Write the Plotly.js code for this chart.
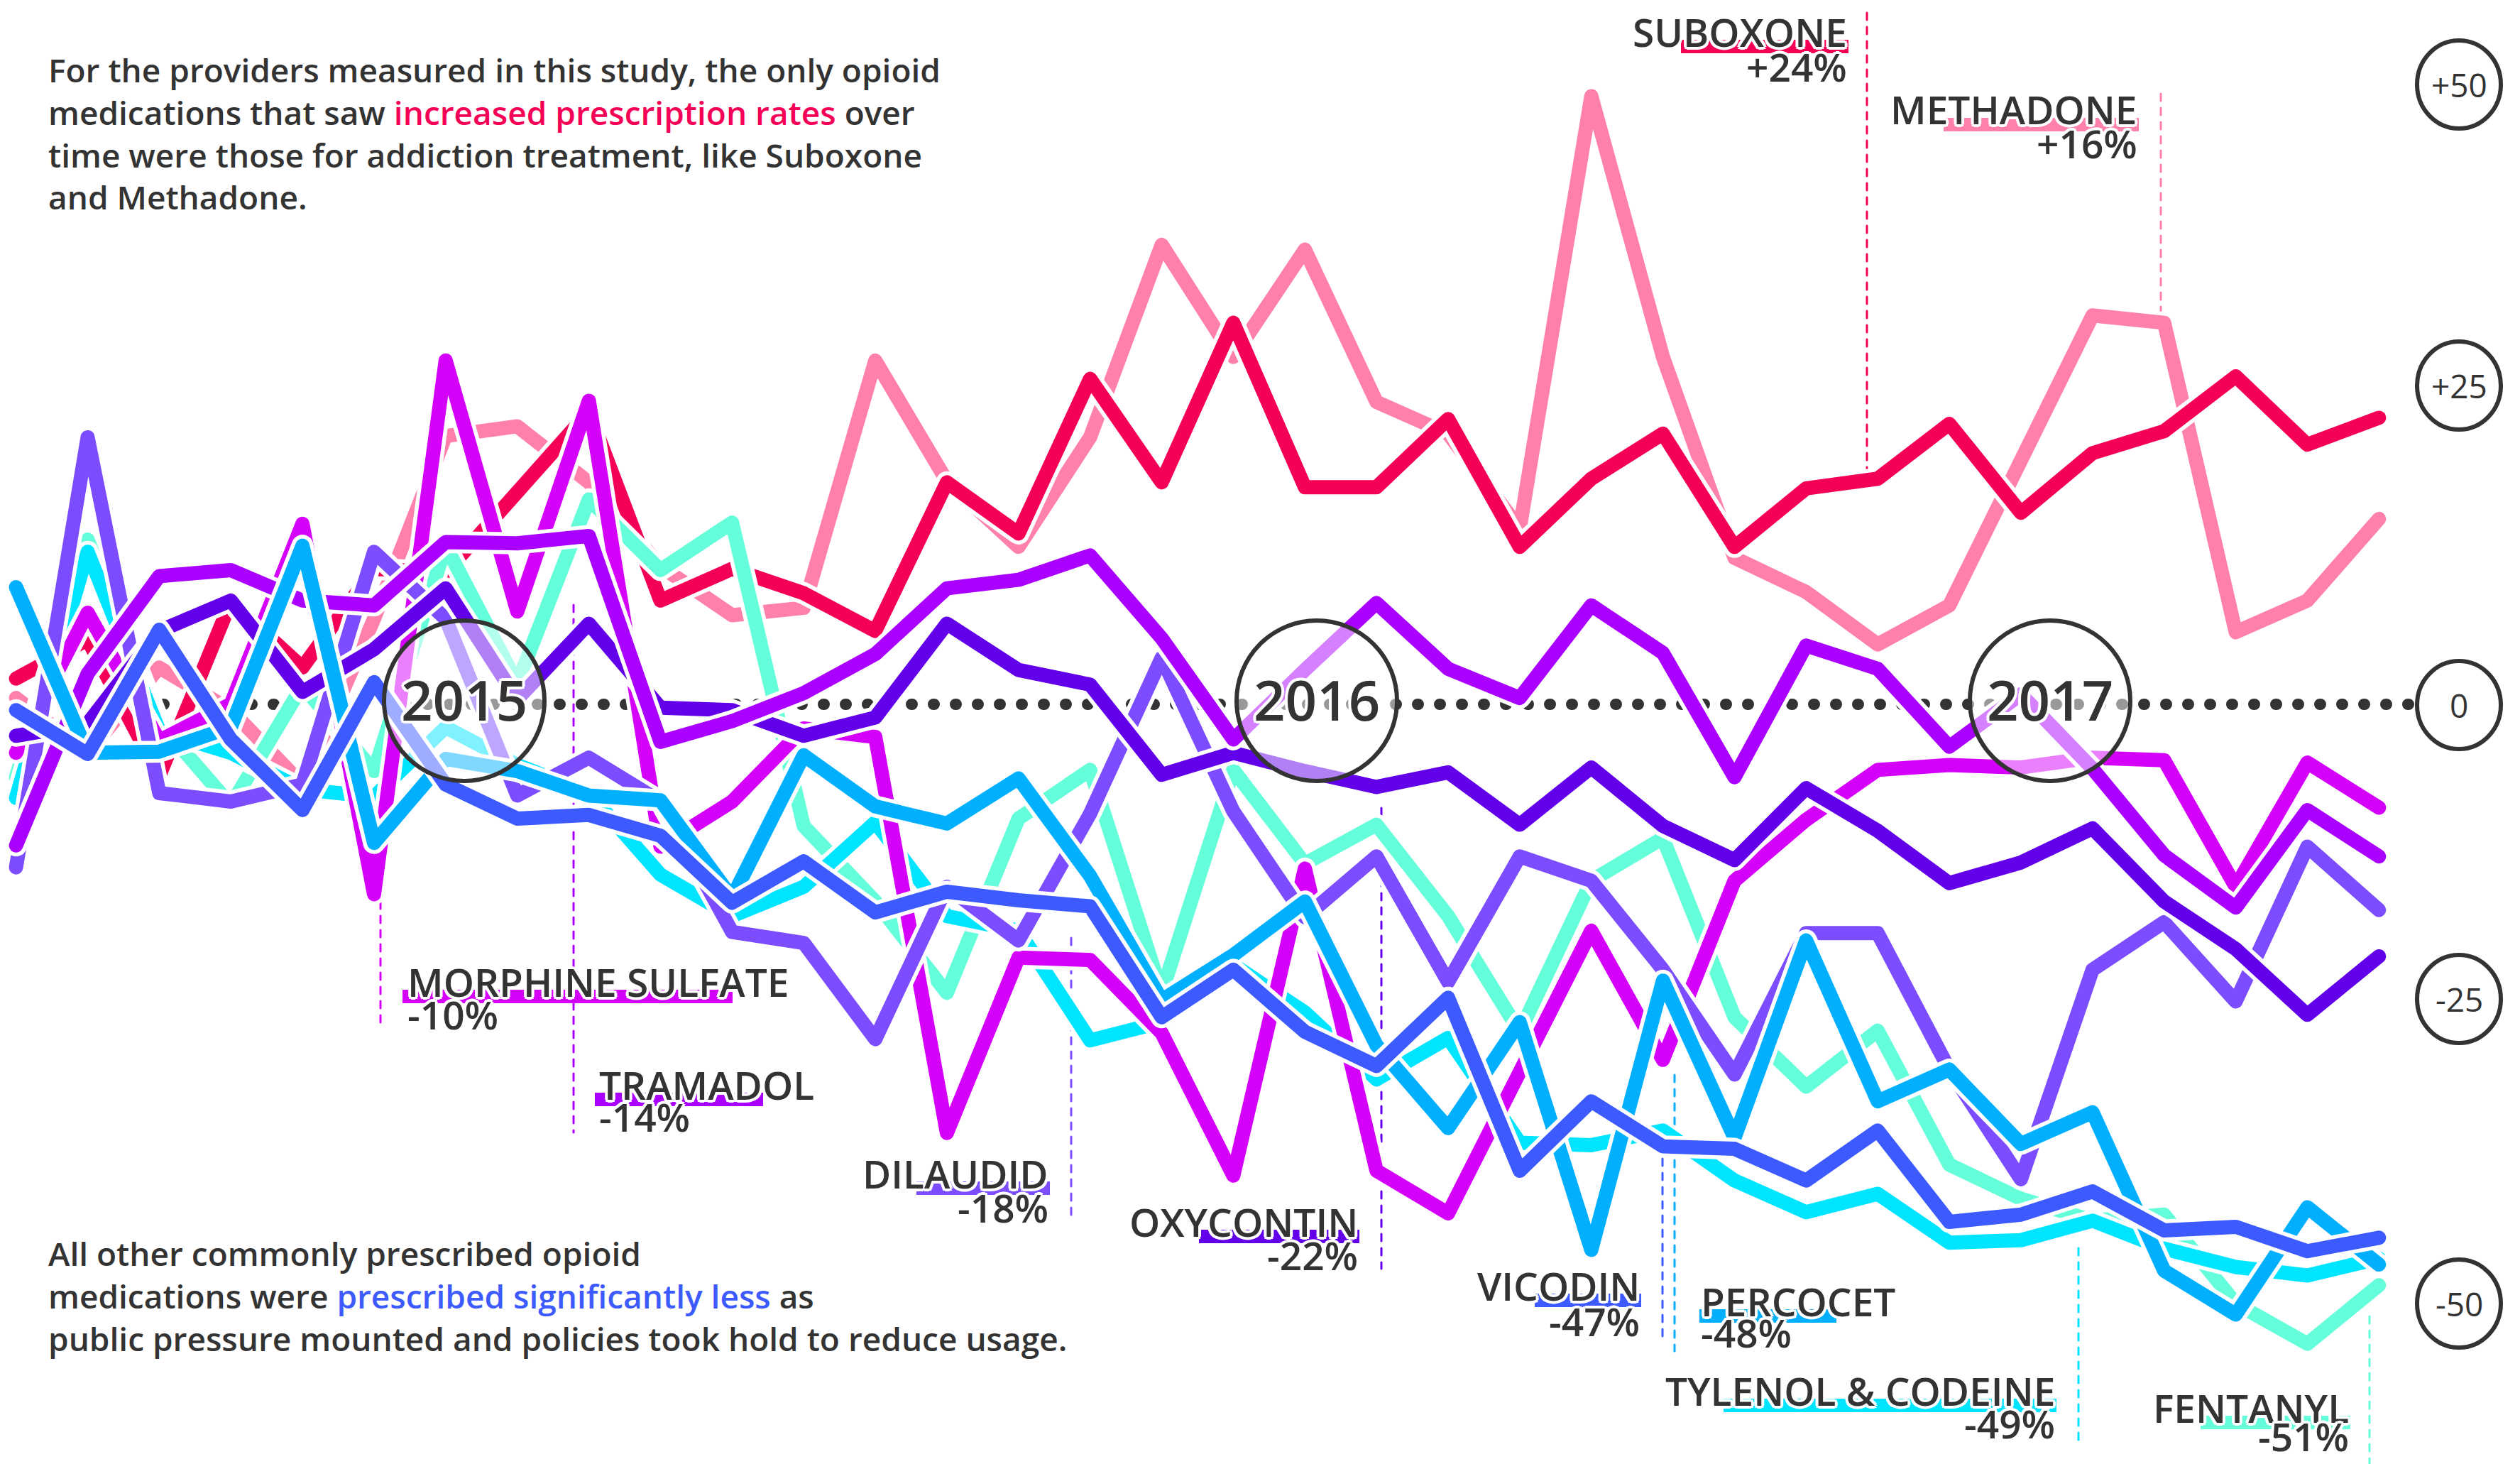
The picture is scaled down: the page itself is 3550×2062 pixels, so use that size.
<!DOCTYPE html>
<html><head><meta charset="utf-8">
<script src="https://cdn.plot.ly/plotly-3.0.1.min.js"></script>
<style>
html,body{margin:0;padding:0;background:#fff}
#chart{width:3550px;height:2062px}
.js-line{stroke-linejoin:round !important;stroke-linecap:round !important}
.shapelayer path{stroke-linecap:round !important}
</style></head><body><div id="chart"></div><script>
const W = 3550, H = 2062;

// ---- data (relative change, %), one value per period ----
const suboxone  = [2.1,5.3,-5.9,8.4,3.0,11.1,10.8,17.5,24.0,8.5,11.1,9.1,6.0,18.2,14.0,26.7,18.2,31.3,17.8,17.8,23.4,12.9,18.5,22.2,12.9,17.7,18.5,23.0,15.7,20.6,22.4,26.9,21.3,23.5];
const methadone = [0.5,-4,3,-0.5,-6.6,7,22.0,22.8,18.2,11.3,7.3,7.9,28.2,18.3,12.9,21.9,37.7,28.5,37.3,24.8,22.2,14.4,49.9,28.5,12.0,9.2,4.9,8.1,20.0,31.9,31.3,5.9,8.5,15.2];
const morphine  = [-4,7.5,-3,0,14.8,-15.6,28.2,7.6,24.9,-11.7,-8.0,-2,-2.7,-35.2,-20.8,-21,-27,-38.7,-13.5,-38.3,-41.8,-30,-18.6,-29.2,-14.5,-9.5,-5.4,-5.0,-5.2,-4.4,-4.6,-15.0,-4.8,-8.5];
const tramadol  = [-11.6,2.5,10.5,11.0,8.5,8.1,13.3,13.2,13.8,-3.1,-1.4,0.9,4.1,9.5,10.2,12.2,5.4,-2.9,2.8,8.3,2.9,0.5,8.1,4.2,-6.0,4.8,2.9,-3.5,0.8,-5.3,-12.4,-16.7,-8.7,-12.5];
const dilaudid  = [-13.4,21.9,-7.3,-8,-6.6,12.5,7,-7.5,-4.4,-8,-18.7,-19.6,-27.5,-15.0,-19.4,-9,3.8,-8.8,-17.5,-12.5,-22.8,-12.5,-14.5,-21.8,-30.4,-18.8,-18.8,-30,-39,-21.8,-17.9,-24.4,-11.7,-16.9];
const oxycontin = [-2.6,-1.6,6.0,8.5,1,4.5,9.5,0.4,6.6,-0.3,-0.5,-2.6,-1.1,6.6,2.8,1.6,-5.8,-4.0,-5.5,-6.8,-5.6,-9.9,-5.2,-10.0,-12.8,-6.9,-10.4,-14.7,-13.0,-10.2,-16.2,-20.1,-25.5,-20.7];
const vicodin   = [-0.5,-4.1,6.1,-2.9,-8.7,1.8,-6.6,-9.4,-9.1,-10.8,-16.3,-12.9,-17.1,-15.4,-16.1,-16.6,-25.7,-21.8,-26.9,-29.7,-24.1,-38.3,-32.6,-36.3,-36.5,-39.1,-35.0,-42.5,-41.9,-40.0,-43.2,-42.9,-44.9,-43.8];
const percocet  = [9.6,-4,-3.9,-1.9,13.0,-11.4,-4.5,-5.5,-7.5,-7.9,-15.9,-4.2,-8.4,-9.8,-6.1,-14.1,-24.3,-20.6,-16.2,-28.0,-34.8,-26.1,-44.8,-22.7,-35.6,-19.4,-32.6,-30.0,-36.1,-33.5,-46.5,-50.1,-41.3,-46.0];
const tylenol   = [-7.7,12.5,-2.2,-4,-7,-7.6,-1.9,-5,-7.3,-14,-17.4,-15,-9.7,-17.4,-18.6,-27.6,-26.1,-21.4,-25.3,-30.8,-27.4,-36,-36.2,-35,-39.1,-41.7,-40.2,-44.2,-44,-42.4,-44.7,-46.2,-46.9,-45.5];
const fentanyl  = [-6,13.5,-1.5,-8.3,1.5,-5.5,13,1.7,16.8,11,14.9,-10,-16.2,-23.7,-9.4,-5.4,-23.7,-5.4,-13.1,-9.9,-17.4,-26.9,-14.5,-11.0,-25.7,-31.4,-26.8,-37.8,-40.6,-42.4,-41.9,-49.2,-52.5,-47.7];

const names   = ['SUBOXONE','METHADONE','MORPHINE SULFATE','TRAMADOL','DILAUDID','OXYCONTIN','VICODIN','PERCOCET','TYLENOL &amp; CODEINE','FENTANYL'];
const changes = ['+24%','+16%','-10%','-14%','-18%','-22%','-47%','-48%','-49%','-51%'];
const colors  = ['#F50057','#FF80AB','#D500F9','#AA00FF','#7C4DFF','#6200EA','#3D5AFE','#00B0FF','#00E5FF','#64FFDA'];
const series  = [suboxone,methadone,morphine,tramadol,dilaudid,oxycontin,vicodin,percocet,tylenol,fentanyl];
const years   = ['2015','2016','2017'];
const yTicks  = ['+50','+25','0','-25','-50'];

// draw order bottom -> top
const order = [1,0,9,8,2,4,5,3,7,6];

const traces = [];
order.forEach(k => {
  const y = series[k];
  const x = y.map((_, i) => i);
  traces.push({x, y, type:'scatter', mode:'lines', hoverinfo:'skip',
    line:{color:'#ffffff', width:31}, showlegend:false});
  traces.push({x, y, type:'scatter', mode:'lines', name:names[k],
    line:{color:colors[k], width:20}, showlegend:false});
});

// ---- layout helpers (pixel -> paper) ----
const px = v => v / W;
const py = v => 1 - v / H;
const TXT = '#333333';
const halo = '4px 0 0 #fff, -4px 0 0 #fff, 0 4px 0 #fff, 0 -4px 0 #fff, 3px 3px 0 #fff, -3px -3px 0 #fff, 3px -3px 0 #fff, -3px 3px 0 #fff';

const shapes = [];
const annotations = [];

// zero dotted line
shapes.push({type:'line', xref:'paper', yref:'paper', layer:'below',
  x0:px(230), x1:px(3400), y0:py(992), y1:py(992),
  line:{color:TXT, width:16, dash:'1px,30px'}});

// label leader lines, highlight bars, texts
const lab = [
  // [dashX, dashY0, dashY1, barX0, barX1, textX, anchor, nameY, pctY]
  [2630, 18, 665, 2368, 2604, 2604, 'right', 44, 93],
  [3044, 132, 446, 2738, 3013, 3013, 'right', 154, 201],
  [536, 1270, 1450, 567, 1032, 572, 'left', 1382, 1428],
  [808, 852, 1595, 838, 1075, 842, 'left', 1527, 1572],
  [1509, 1321, 1720, 1291, 1479, 1479, 'right', 1652, 1700],
  [1946, 1138, 1787, 1689, 1915, 1915, 'right', 1720, 1767],
  [2342, 1632, 1884, 2162, 2312, 2312, 'right', 1810, 1860],
  [2359, 1514, 1903, 2394, 2587, 2394, 'left', 1832, 1876],
  [2928, 1758, 2028, 2428, 2897, 2897, 'right', 1958, 2004],
  [3338, 1854, 2062, 3100, 3311, 3311, 'right', 1982, 2022]
];
lab.forEach((L, k) => {
  shapes.push({type:'line', xref:'paper', yref:'paper', layer:'below',
    x0:px(L[0]), x1:px(L[0]), y0:py(L[1]), y1:py(L[2]),
    line:{color:colors[k], width:3, dash:'10px,10px'}});
  shapes.push({type:'rect', xref:'paper', yref:'paper', layer:'above',
    x0:px(L[3]), x1:px(L[4]), y0:py(L[7]+12), y1:py(L[7]+31),
    fillcolor:colors[k], line:{width:0}});
  annotations.push({xref:'paper', yref:'paper', x:px(L[5]), y:py(L[7]),
    xanchor:L[6], yanchor:'middle', showarrow:false, text:names[k],
    font:{family:'Open Sans', size:55, weight:600, color:TXT, shadow:halo}});
  annotations.push({xref:'paper', yref:'paper', x:px(L[5]), y:py(L[8]),
    xanchor:L[6], yanchor:'middle', showarrow:false, text:changes[k],
    font:{family:'Open Sans', size:55, weight:600, color:TXT, shadow:halo}});
});

// year circles
const yearX = [654, 1855, 2888];
years.forEach((t, i) => {
  const r = 113, cy = 987;
  shapes.push({type:'circle', xref:'paper', yref:'paper', layer:'above',
    x0:px(yearX[i]-r), x1:px(yearX[i]+r), y0:py(cy+r), y1:py(cy-r),
    fillcolor:'rgba(255,255,255,0.5)', line:{color:TXT, width:6}});
  annotations.push({xref:'paper', yref:'paper', x:px(yearX[i]), y:py(cy-2),
    xanchor:'center', yanchor:'middle', showarrow:false, text:t,
    font:{family:'Open Sans', size:78, weight:600, color:TXT, shadow:halo}});
});

// value circles on the right
const tickY = [119, 543, 993, 1407, 1836];
yTicks.forEach((t, i) => {
  const cx = 3464, rx = 59, ry = 62;
  shapes.push({type:'circle', xref:'paper', yref:'paper', layer:'above',
    x0:px(cx-rx), x1:px(cx+rx), y0:py(tickY[i]+ry), y1:py(tickY[i]-ry),
    fillcolor:'#ffffff', line:{color:TXT, width:6}});
  annotations.push({xref:'paper', yref:'paper', x:px(cx), y:py(tickY[i]),
    xanchor:'center', yanchor:'middle', showarrow:false, text:t,
    font:{family:'Open Sans', size:46, weight:500, color:TXT}});
});

// explanatory texts
annotations.push({xref:'paper', yref:'paper', x:px(66), y:py(188), xanchor:'left', yanchor:'middle',
  align:'left', showarrow:false,
  text:"For the providers measured in this study, the only opioid<br>medications that saw <span style='color:#F50057'>increased prescription rates</span> over<br>time were those for addiction treatment, like Suboxone<br>and Methadone.",
  font:{family:'Open Sans', size:46, weight:600, color:TXT}});
annotations.push({xref:'paper', yref:'paper', x:px(66), y:py(1825), xanchor:'left', yanchor:'middle',
  align:'left', showarrow:false,
  text:"All other commonly prescribed opioid<br>medications were <span style='color:#3D5AFE'>prescribed significantly less</span> as<br>public pressure mounted and policies took hold to reduce usage.",
  font:{family:'Open Sans', size:46, weight:600, color:TXT}});

const layout = {
  width: W, height: H,
  margin:{l:0, r:0, t:0, b:0, pad:0},
  paper_bgcolor:'#ffffff', plot_bgcolor:'#ffffff',
  showlegend:false,
  xaxis:{range:[-0.224, 34.97], visible:false, fixedrange:true},
  yaxis:{range:[-62.37, 57.79], visible:false, fixedrange:true},
  shapes, annotations,
  font:{family:'Open Sans'}
};
Plotly.newPlot('chart', traces, layout, {staticPlot:true, displayModeBar:false});
</script></body></html>
